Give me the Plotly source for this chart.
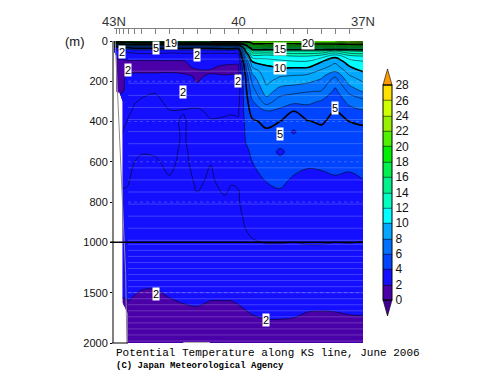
import plotly.graph_objects as go

# --- data -----------------------------------------------------------------
lats = [43.0, 42.93, 42.87, 42.78, 42.66, 42.5, 42.33, 42.0, 41.67, 41.33, 41.0, 40.67, 40.33,
        40.17, 40.0, 39.83, 39.67, 39.33, 39.0, 38.67, 38.33, 38.0, 37.67, 37.33, 37.0]
depths = [0, 10, 20, 30, 40, 50, 75, 100, 125, 150, 175, 200, 250, 300, 350, 400, 450, 500, 550,
          600, 700, 800, 900, 1000, 1200, 1400, 1500, 1600, 1700, 1800, 2000]
N = None
T0000 = [17,18,18,18,18,19,19,19,20,20,20,20,21,21,21,21,21.5,21.5,21.5,21.5,21.5,22,22,23,24]
T0010 = [10,11,12,13,13,14,14,14,15,15,15,15,16,16,16,18,20.3,20.3,20.3,20.3,20.5,20.5,20.5,20.8,21]
T0020 = [6,7,8,8,9,9,9,9,9,9,9,9,10,10,10,15,19.3,19.5,19.5,19.5,19.5,19.5,19.5,19.5,19.5]
T0030 = [4,4.5,5,5.5,5.5,6,6,6,6,6,6,6,6.5,6.5,6.5,12.8,17.5,17.5,17.5,17.5,17.5,17.5,17.5,17.5,17.5]
T0040 = [3,3.2,3.5,4,4.2,4.5,4.5,4.5,4.5,4.5,4.5,4.5,4.8,4.8,4.5,10.8,15.3,15.5,15.5,15.5,15.5,15.5,15.5,15.5,15.5]
T0050 = [2.6,2.7,2.8,3,3.2,3.3,3.4,3.4,3.3,3.4,3.4,3.4,3.4,3.5,3.5,10,13.7,13.8,14,14,14,14,13,14,14.2]
T0075 = [N,2.1,2.2,2.3,2.5,2.6,2.6,2.6,2.5,2.5,2.5,2.5,2.5,2.5,2.5,8.3,11.5,11.5,11.7,12,12,11.5,10.3,11.7,12]
T0100 = [N,1.9,1.9,1.85,1.9,1.9,1.9,1.9,1.95,1.95,2.3,2.3,2.3,2.2,2.2,6.6,10.1,10.6,10.8,11,11,10.1,9.3,10.6,11]
T0125 = [N,1.85,1.8,1.8,1.8,1.8,1.85,1.9,1.9,1.9,2.1,2.1,1.9,1.9,1.9,5.8,9.2,9.9,10.2,10.2,10.2,9.5,8.65,10,10.6]
T0150 = [N,1.85,1.8,1.8,1.9,1.95,1.95,1.95,1.95,1.9,1.95,1.95,1.85,1.85,1.85,5.5,8.3,9.7,9.65,9.55,9.45,8.75,8.05,9.4,10.05]
T0175 = [N,1.85,1.85,1.9,2.1,2.1,2.1,2.1,2.15,2.1,1.95,2.05,2.05,2.1,2.1,5,7.7,9.5,9.05,8.9,8.75,8.2,7.1,8.9,9.5]
T0200 = [N,1.85,1.85,1.9,2.3,2.4,2.4,2.4,2.4,2.3,1.95,2.3,2.4,2.5,2.5,4.9,7.2,9.25,8.6,8.45,8.2,7.75,6.45,8.45,9.05]
T0250 = [N,1.9,1.9,1.95,2.4,2.8,2.9,2.97,2.7,2.6,2.4,2.5,2.6,2.6,2.6,4.7,6.5,8.55,7.5,7.25,7.05,6.95,5.75,7.25,8.1]
T0300 = [N,N,N,2.6,2.75,2.97,3.05,3.1,2.9,2.9,2.9,2.8,2.8,2.8,2.8,4.5,5.9,7.5,6.5,6.3,6.25,5.9,5.3,6.3,6.65]
T0350 = [N,N,N,2.7,2.9,3.1,3.2,3.2,3.02,3.02,3.05,2.95,2.95,2.95,2.95,4.4,5.35,5.9,5.75,4.97,5.5,5.5,4.95,5.6,5.9]
T0400 = [N,N,N,2.85,3.05,3.2,3.2,3.2,3.1,2.95,3.2,3.02,3.05,3.1,3.05,4.2,4.85,5.2,5,4.8,4.95,5.1,4.75,5,5.1]
T0450 = [N,N,N,3.02,3.15,3.2,3.2,3.2,3.15,2.95,3.2,3.05,3.15,3.15,3.15,4.1,4.6,4.9,4.7,3.85,4.7,4.8,4.6,4.75,4.85]
T0500 = [N,N,N,3.1,3.2,3.15,3.1,3.15,3.15,2.95,3.2,3.1,3.2,3.2,3.2,4,4.35,4.7,4.4,4.5,4.5,4.6,4.45,4.55,4.7]
T0550 = [N,N,N,3.1,3.15,3.05,3.02,3.05,3.15,2.9,3.2,3.05,3.15,3.15,3.15,3.8,4.15,4.55,3.8,4.4,4.3,4.3,4.35,4.4,4.5]
T0600 = [N,N,N,3.1,3.1,3.0,2.95,2.95,3.1,2.9,3.15,3.01,3.1,3.1,3.1,3.6,4,4.4,4.3,4.2,4.1,4.15,4.2,4.2,4.35]
T0700 = [N,N,N,3.05,3.02,2.9,2.85,2.85,2.95,2.85,3.05,2.95,3.1,3.02,3.03,3.4,3.6,4,4.1,3.9,3.8,3.8,3.9,3.8,3.95]
T0800 = [N,N,N,2.9,2.9,2.85,2.8,2.8,2.85,2.8,2.95,2.85,2.95,2.9,2.95,3.3,3.4,3.6,3.8,3.6,3.55,3.5,3.6,3.5,3.6]
T0900 = [N,N,N,2.8,2.8,2.75,2.72,2.72,2.75,2.7,2.8,2.75,2.8,2.8,2.85,3.05,3.2,3.3,3.4,3.3,3.3,3.25,3.3,3.25,3.3]
T1000 = [N,N,N,2.7,2.7,2.65,2.65,2.65,2.65,2.65,2.7,2.65,2.7,2.7,2.75,2.9,2.95,3.02,3.02,3.0,3.05,3.05,3.0,3.02,2.98]
T1200 = [N,N,N,2.45,2.45,2.4,2.35,2.35,2.4,2.45,2.5,2.45,2.45,2.45,2.5,2.55,2.6,2.7,2.7,2.65,2.6,2.6,2.6,2.62,2.65]
T1400 = [N,N,N,2.15,2.18,2.11,2.08,2.07,2.15,2.2,2.24,2.18,2.18,2.18,2.2,2.27,2.32,2.36,2.36,2.35,2.3,2.28,2.3,2.32,2.33]
T1500 = [N,N,N,2.05,2.08,2.02,1.97,1.96,2.05,2.1,2.14,2.08,2.08,2.08,2.12,2.18,2.22,2.27,2.27,2.25,2.2,2.19,2.2,2.22,2.23]
T1600 = [N,N,N,1.95,1.98,1.92,1.88,1.86,1.95,2.01,2.04,1.98,1.98,1.98,2.02,2.08,2.12,2.17,2.17,2.15,2.1,2.09,2.1,2.12,2.13]
T1700 = [N,N,N,N,1.88,1.85,1.8,1.8,1.85,1.9,1.93,1.88,1.88,1.88,1.92,1.97,2.02,2.07,2.07,2.05,1.99,1.98,1.99,2.02,2.03]
T1800 = [N,N,N,N,1.78,1.75,1.72,1.72,1.75,1.8,1.83,1.78,1.78,1.78,1.82,1.87,1.92,1.96,1.96,1.95,1.9,1.88,1.9,1.92,1.93]
T2000 = [N,N,N,N,1.6,1.6,1.6,1.6,1.6,1.6,1.6,1.6,1.6,1.6,1.6,1.6,1.6,1.6,1.6,1.6,1.6,1.6,1.6,1.6,1.6]
temperature = [T0000,T0010,T0020,T0030,T0040,T0050,T0075,T0100,T0125,T0150,T0175,T0200,T0250,T0300,T0350,
               T0400,T0450,T0500,T0550,T0600,T0700,T0800,T0900,T1000,T1200,T1400,T1500,T1600,T1700,T1800,T2000]

level_colors = ["#4a00a8", "#1410ff", "#0044ff", "#0070ff", "#00a8ff", "#00ffff", "#00ffc0", "#00f08c",
                "#00f050", "#00ee00", "#50f000", "#98f000", "#d0ff00", "#ffe000"]
depth_ticks = [0, 200, 400, 600, 800, 1000, 1500, 2000]
station_ticks = [43.0, 42.93, 42.87, 42.78, 42.66, 42.5, 42.33, 42.0, 41.67, 41.33, 41.0, 40.67, 40.33, 40.0,
                 39.67, 39.33, 39.0, 38.67, 38.33, 38.0, 37.67, 37.33, 37.0]
station_labels = {43.0: "43N", 40.0: "40", 37.0: "37N"}
contour_labels = [(42.8, 55, "2"), (42.0, 37, "5"), (41.63, 8, "19"), (41.0, 68, "2"), (42.66, 145, "2"),
                  (40.02, 200, "2"), (41.33, 255, "2"), (39.0, 40, "15"), (39.0, 135, "10"), (38.33, 10, "20"),
                  (37.67, 335, "5"), (39.0, 460, "5"), (42.0, 1510, "2"), (39.33, 1770, "2")]
seafloor_lat = [42.97, 42.9, 42.86, 42.8, 42.72, 42.69]
seafloor_depth = [0, 300, 500, 800, 1300, 2000]
ridge_lat = [41.33, 40.69]
ridge_depth = [2000, 2000]
stripe_depths = list(range(90, 1000, 60)) + list(range(1020, 2000, 60))
dotted_depths = [200, 400, 600, 800, 1500]


def pos(d):
    """Depth axis: 0-1000 m is twice as tall per metre as 1000-2000 m."""
    return d if d <= 1000 else 1000 + (d - 1000) / 2


ypos = [pos(d) for d in depths]
W, H = 500, 387
L, R, T, B = 114, 363, 28, 343
paper_x = lambda px: (px - L) / (R - L)
paper_y = lambda py: (B - py) / (B - T)

n = len(level_colors)
scale = []
for i, c in enumerate(level_colors):
    scale += [[i / n, c], [(i + 1) / n, c]]

fig = go.Figure()
fig.add_trace(go.Contour(
    x=lats, y=ypos, z=temperature, zmin=0, zmax=28, colorscale=scale, autocontour=False,
    contours=dict(start=0, end=28, size=2, coloring="fill", showlines=True),
    line=dict(width=0.55, color="black"),
    colorbar=dict(
        thickness=9, thicknessmode="pixels", len=215, lenmode="pixels",
        x=paper_x(383), xref="paper", xanchor="left", y=paper_y(300), yref="paper", yanchor="bottom",
        tickvals=list(range(0, 30, 2)), tickfont=dict(family="Liberation Sans", size=12, color="#111"),
        ticks="", outlinecolor="black", outlinewidth=1, xpad=0, ypad=0,
    ),
))
fig.add_trace(go.Contour(
    x=lats, y=ypos, z=temperature, showscale=False, autocontour=False,
    contours=dict(start=1, end=27, size=2, coloring="none"),
    line=dict(color="black", width=0.55), hoverinfo="skip",
))
fig.add_trace(go.Contour(
    x=lats, y=ypos, z=temperature, showscale=False, autocontour=False,
    contours=dict(start=5, end=25, size=5, coloring="none"),
    line=dict(color="black", width=1.6), hoverinfo="skip",
))
fig.add_trace(go.Scatter(x=seafloor_lat, y=[pos(d) for d in seafloor_depth], mode="lines",
                         line=dict(color="#8c8c8c", width=1), showlegend=False, hoverinfo="skip"))
fig.add_trace(go.Scatter(x=ridge_lat, y=[pos(d) for d in ridge_depth], mode="lines", cliponaxis=False,
                         line=dict(color="#b0b0b0", width=2), showlegend=False, hoverinfo="skip"))

shapes = []
for d in stripe_depths:
    shapes.append(dict(type="line", xref="x", yref="y", x0=lats[4], x1=37, y0=pos(d), y1=pos(d),
                       line=dict(color="rgba(255,255,255,0.2)", width=1)))
for d in dotted_depths:
    shapes.append(dict(type="line", xref="x", yref="y", x0=lats[4], x1=37, y0=pos(d), y1=pos(d),
                       line=dict(color="rgba(255,255,255,0.22)", width=1, dash="dot")))
shapes.append(dict(type="line", xref="paper", yref="y", x0=paper_x(110), x1=1, y0=pos(1000), y1=pos(1000),
                   line=dict(color="black", width=1.5)))
shapes.append(dict(type="line", xref="paper", yref="paper", x0=paper_x(112), x1=paper_x(128), y0=0, y1=0,
                   line=dict(color="black", width=1)))
# colour-bar end arrows
lo_x, hi_x, mid_x = paper_x(383), paper_x(392), paper_x(387.5)
shapes.append(dict(type="path", xref="paper", yref="paper",
                   path=f"M {lo_x} {paper_y(300)} L {hi_x} {paper_y(300)} L {mid_x} {paper_y(316)} Z",
                   fillcolor="#400090", line=dict(color="black", width=0.6)))
shapes.append(dict(type="path", xref="paper", yref="paper",
                   path=f"M {lo_x} {paper_y(85)} L {hi_x} {paper_y(85)} L {mid_x} {paper_y(69)} Z",
                   fillcolor="#ff9a00", line=dict(color="black", width=0.6)))

ann = []
for lat, d, txt in contour_labels:
    ann.append(dict(x=lat, y=pos(d), xref="x", yref="y", text=txt, showarrow=False, bgcolor="white",
                    borderpad=0, font=dict(family="Liberation Sans", size=11, color="black")))
ann.append(dict(x=paper_x(63), y=paper_y(42), xref="paper", yref="paper", xanchor="left", yanchor="middle",
                text="(m)", showarrow=False, font=dict(family="Liberation Sans", size=13, color="#111")))
ann.append(dict(x=paper_x(114), y=paper_y(353), xref="paper", yref="paper", xanchor="left", yanchor="middle",
                text="Potential Temperature along KS line, June 2006", showarrow=False,
                font=dict(family="Liberation Mono", size=11, color="black")))
ann.append(dict(x=paper_x(114), y=paper_y(366), xref="paper", yref="paper", xanchor="left", yanchor="middle",
                text="<b>(C) Japan Meteorological Agency</b>", showarrow=False,
                font=dict(family="Liberation Mono", size=9, color="black")))

fig.update_layout(
    width=W, height=H, margin=dict(l=L, r=W - R, t=T, b=H - B, pad=0, autoexpand=False),
    paper_bgcolor="white", plot_bgcolor="white", showlegend=False, shapes=shapes, annotations=ann,
    xaxis=dict(range=[43, 37], side="top", anchor="free", position=1, tickvals=station_ticks,
               ticktext=[station_labels.get(v, "") for v in station_ticks], ticks="inside", ticklen=5,
               tickcolor="#808080", showline=True, linecolor="#808080", linewidth=1, showgrid=False,
               ticklabelstandoff=-3,
               zeroline=False, tickfont=dict(family="Liberation Sans", size=13, color="#333"), tickangle=0),
    yaxis=dict(range=[pos(2000), 0], domain=[0, (B - 41) / (B - T)], tickvals=[pos(d) for d in depth_ticks],
               ticktext=[str(d) for d in depth_ticks], ticks="outside", ticklen=2, tickcolor="black",
               showline=True, linecolor="#808080", linewidth=2, showgrid=False, zeroline=False,
               tickfont=dict(family="Liberation Sans", size=11, color="#111")),
)
fig.write_html("out.html", config=dict(displayModeBar=False), post_script="document.body.style.margin='0';")
